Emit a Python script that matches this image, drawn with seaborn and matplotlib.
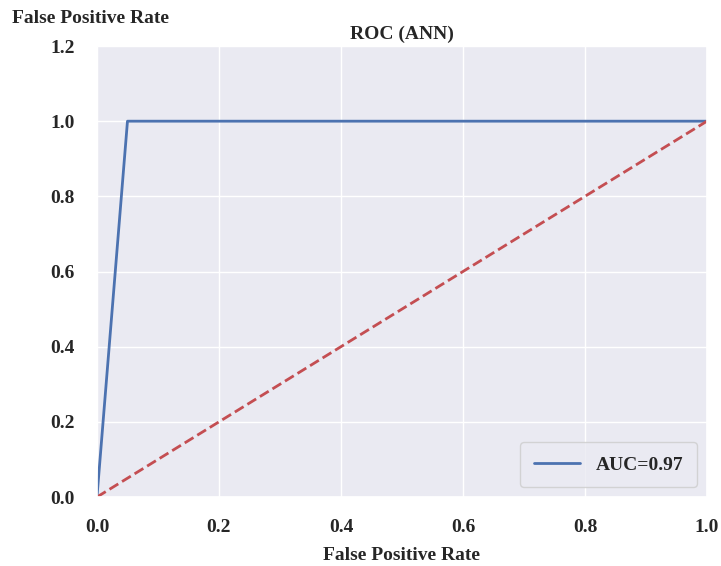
import matplotlib
matplotlib.use("Agg")
import matplotlib.pyplot as plt
import seaborn as sns
import pandas as pd

# ROC points
fpr = [0.0, 0.05, 1.0]
tpr = [0.0, 1.0, 1.0]
chance = [0.0, 1.0]
auc_label = "AUC=0.97"
x_ticks = [0.0, 0.2, 0.4, 0.6, 0.8, 1.0]
y_ticks = [0.0, 0.2, 0.4, 0.6, 0.8, 1.0, 1.2]

sns.set_theme(style="darkgrid", palette="deep")
plt.rcParams["font.family"] = ["Liberation Serif", "DejaVu Serif"]
plt.rcParams["font.weight"] = "bold"

df = pd.DataFrame({"fpr": fpr, "tpr": tpr})

fig = plt.figure(figsize=(7.21, 5.66), dpi=100)
ax = fig.add_axes([0.1345, 0.1219, 0.846, 0.7968])

sns.lineplot(data=df, x="fpr", y="tpr", ax=ax, color="#4c72b0",
             linewidth=2, label=auc_label, sort=False, estimator=None)
ax.plot(chance, chance, color="#c44e52", linestyle="--", linewidth=2)

ax.set_xlim(0, 1.0)
ax.set_ylim(0, 1.2)
ax.set_xticks(x_ticks)
ax.set_yticks(y_ticks)
ax.set_xticklabels([f"{t:.1f}" for t in x_ticks], fontsize=14, fontweight="bold")
ax.set_yticklabels([f"{t:.1f}" for t in y_ticks], fontsize=14, fontweight="bold")
ax.tick_params(axis="x", pad=10)
ax.tick_params(axis="y", pad=10)

ax.set_title("ROC (ANN)", fontsize=14, fontweight="bold", pad=5)
ax.set_xlabel("False Positive Rate", fontsize=14, fontweight="bold", labelpad=8)
ax.set_ylabel("False Positive Rate", fontsize=14, fontweight="bold",
              rotation=0, ha="center", va="center")
ax.yaxis.set_label_coords(-0.011, 1.06)

leg = ax.legend(loc="lower right", prop={"size": 14, "weight": "bold"},
                handlelength=2.4, borderpad=0.7)

plt.savefig("out.png", dpi=100)
